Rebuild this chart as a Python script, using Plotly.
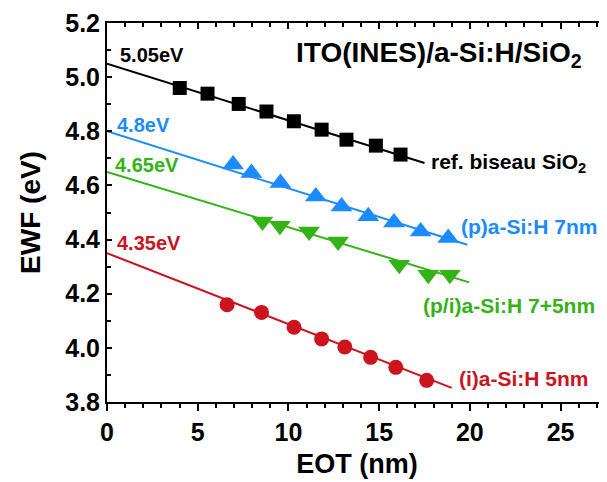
import plotly.graph_objects as go

# ---- data ----
ref_x = [4.01, 5.54, 7.26, 8.79, 10.30, 11.83, 13.20, 14.82, 16.18]
ref_y = [4.960, 4.939, 4.901, 4.873, 4.837, 4.806, 4.769, 4.747, 4.714]

p_x = [6.95, 7.96, 9.56, 11.51, 12.93, 14.40, 15.82, 17.29, 18.81]
p_y = [4.677, 4.646, 4.609, 4.559, 4.522, 4.486, 4.463, 4.430, 4.406]

pi_x = [8.57, 9.53, 11.14, 12.74, 16.11, 17.71, 18.90]
pi_y = [4.467, 4.451, 4.430, 4.393, 4.307, 4.270, 4.270]

i_x = [6.62, 8.52, 10.31, 11.83, 13.11, 14.53, 15.92, 17.62]
i_y = [4.159, 4.131, 4.076, 4.033, 4.003, 3.965, 3.928, 3.880]

# linear fits: [x_start, x_end], [y_start, y_end]
fit_ref_x = [0, 17.5]
fit_ref_y = [5.05, 4.683]
fit_p_x = [0, 19.86]
fit_p_y = [4.80, 4.381]
fit_pi_x = [0, 19.97]
fit_pi_y = [4.65, 4.242]
fit_i_x = [0, 19.0]
fit_i_y = [4.35, 3.852]

BLACK = "#000000"
BLUE = "#1a8cff"
GREEN = "#33b316"
RED = "#cc141e"

FONT = "Liberation Sans, Arial, sans-serif"

fig = go.Figure()

def add_series(fx, fy, x, y, color, symbol, size):
    fig.add_trace(go.Scatter(x=fx, y=fy, mode="lines",
                             line=dict(color=color, width=2), showlegend=False,
                             hoverinfo="skip"))
    fig.add_trace(go.Scatter(x=x, y=y, mode="markers",
                             marker=dict(color=color, symbol=symbol, size=size,
                                         line=dict(width=0)),
                             showlegend=False))

add_series(fit_ref_x, fit_ref_y, ref_x, ref_y, BLACK, "square", 14)
add_series(fit_p_x, fit_p_y, p_x, p_y, BLUE, "triangle-up", 19)
add_series(fit_pi_x, fit_pi_y, pi_x, pi_y, GREEN, "triangle-down", 19)
add_series(fit_i_x, fit_i_y, i_x, i_y, RED, "circle", 15)

# dummy trace for top/right axes
fig.add_trace(go.Scatter(x=[None], y=[None], xaxis="x2", yaxis="y2", showlegend=False))

XR = [0, 27.56]
YR = [3.8, 5.2]

# page body has an 8px margin: figure is sized/offset to compensate
fig.update_layout(
    width=599, height=474,
    margin=dict(l=99, r=0, t=15, b=80),
    paper_bgcolor="white", plot_bgcolor="white",
    font=dict(family=FONT, color="black"),
    xaxis=dict(range=XR, showgrid=False, zeroline=False, showline=True,
               automargin=False,
               linecolor="black", linewidth=2, ticks="outside", ticklen=7,
               tickwidth=2, tickcolor="black", dtick=5, tick0=0,
               tickfont=dict(size=25, family=FONT, weight="bold"),
               minor=dict(dtick=1, ticks="outside", ticklen=4, tickwidth=2,
                          tickcolor="black"),
               title=dict(text="<b>EOT (nm)</b>", font=dict(size=27, family=FONT),
                          standoff=9)),
    xaxis2=dict(range=XR, overlaying="x", side="top", showgrid=False,
                automargin=False,
                zeroline=False, showline=True, linecolor="black", linewidth=2,
                ticks="inside", ticklen=6, tickwidth=2, tickcolor="black",
                dtick=5, tick0=0, showticklabels=False,
                minor=dict(dtick=1, ticks="inside", ticklen=4, tickwidth=2,
                           tickcolor="black")),
    yaxis=dict(range=YR, showgrid=False, zeroline=False, showline=True,
               automargin=False,
               linecolor="black", linewidth=2, ticks="inside", ticklen=5,
               tickwidth=2, tickcolor="black", dtick=0.2, tick0=3.8,
               tickformat=".1f",
               tickfont=dict(size=25, family=FONT, weight="bold"),
               minor=dict(dtick=0.1, ticks="inside", ticklen=4, tickwidth=2,
                          tickcolor="black"),
               title=dict(text="<b>EWF (eV)</b>", font=dict(size=28, family=FONT),
                          standoff=16)),
    yaxis2=dict(range=YR, overlaying="y", side="right", showgrid=False,
                automargin=False,
                zeroline=False, showline=True, linecolor="black", linewidth=2,
                ticks="inside", ticklen=5, tickwidth=2, tickcolor="black",
                dtick=0.2, tick0=3.8, showticklabels=False,
                minor=dict(dtick=0.1, ticks="inside", ticklen=4, tickwidth=2,
                           tickcolor="black")),
)

def note(text, x, y, color, size):
    fig.add_annotation(x=x, y=y, xref="x", yref="y", text="<b>" + text + "</b>",
                       showarrow=False, xanchor="left", yanchor="middle",
                       font=dict(size=size, color=color, family=FONT))

note("5.05eV", 0.6, 5.083, BLACK, 20)
note("4.8eV", 0.43, 4.824, BLUE, 20)
note("4.65eV", 0.32, 4.677, GREEN, 20)
note("4.35eV", 0.43, 4.389, RED, 20)
note("ITO(INES)/a-Si:H/SiO<sub>2</sub>", 10.3, 5.083, BLACK, 28)
note("ref. biseau SiO<sub>2</sub>", 17.75, 4.684, BLACK, 21)
note("(p)a-Si:H 7nm", 19.4, 4.448, BLUE, 21)
note("(p/i)a-Si:H 7+5nm", 17.3, 4.156, GREEN, 21)
note("(i)a-Si:H 5nm", 19.3, 3.886, RED, 21)

fig.write_html("out.html")
